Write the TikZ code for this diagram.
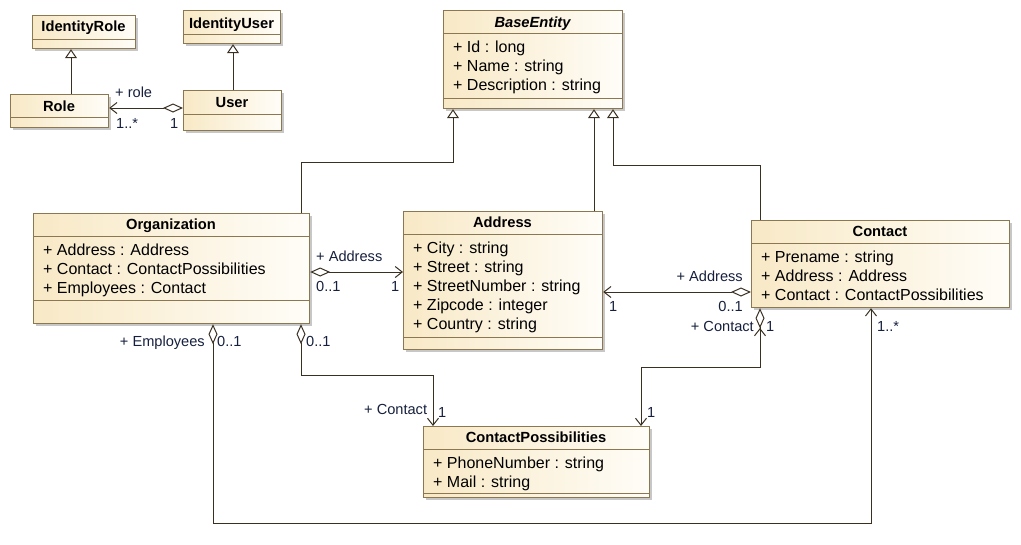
\documentclass[tikz,border=0pt]{standalone}
\usepackage{fontspec}
\setmainfont{Liberation Sans}
\usetikzlibrary{arrows.meta,shadows}
\definecolor{bordc}{RGB}{140,120,80}
\definecolor{filll}{RGB}{248,233,198}
\definecolor{fillr}{RGB}{255,253,248}
\definecolor{connc}{RGB}{58,48,34}
\definecolor{lblc}{RGB}{22,32,62}
\tikzset{
  cls/.style={draw=bordc, line width=1.2pt, left color=filll, right color=fillr, inner sep=0pt, anchor=north west,
    drop shadow={shadow xshift=2pt, shadow yshift=-2pt, fill=black!22, opacity=1}},
  sepline/.style={draw=bordc, line width=1pt},
  cname/.style={font=\fontsize{14.7}{17}\selectfont\bfseries, inner sep=0pt, anchor=base},
  attr/.style={font=\fontsize{16}{19}\selectfont, inner sep=0pt, anchor=base west},
  lbl/.style={font=\fontsize{14.6}{17}\selectfont, text=lblc, inner sep=0pt, anchor=base west},
  lble/.style={lbl, anchor=base east},
  conn/.style={draw=connc, line width=1pt},
  gen/.style={conn, -{Triangle[open, length=9pt, width=12pt, line width=1pt]}},
  agg/.style={conn, {Diamond[open, length=20pt, width=9pt, line width=1pt]}-{Straight Barb[length=7pt, width=11pt, line width=1pt]}},
  nav/.style={conn, -{Straight Barb[length=7pt, width=11pt, line width=1pt]}}
}
\begin{document}
\begin{tikzpicture}[x=1pt,y=-1pt]
\useasboundingbox (0,0) rectangle (1021,544);

% ---------- class boxes ----------
\node[cls, minimum width=103pt, minimum height=33pt] (irole) at (32,15) {};
\draw[sepline] (irole.west |- 0,39) -- (irole.east |- 0,39);
\node[cname] (iroleN) at (83.5,31) {IdentityRole};

\node[cls, minimum width=97pt, minimum height=33pt] (iuser) at (183,10) {};
\draw[sepline] (iuser.west |- 0,34) -- (iuser.east |- 0,34);
\node[cname] (iuserN) at (231.5,28) {IdentityUser};

\node[cls, minimum width=98pt, minimum height=33pt] (role) at (10,94) {};
\draw[sepline] (role.west |- 0,117) -- (role.east |- 0,117);
\node[cname] (roleN) at (59,111) {Role};

\node[cls, minimum width=98pt, minimum height=40pt] (user) at (183,90) {};
\draw[sepline] (user.west |- 0,114) -- (user.east |- 0,114);
\node[cname] (userN) at (232,107) {User};

\node[cls, minimum width=179pt, minimum height=98pt] (base) at (443,10) {};
\draw[sepline] (base.west |- 0,33) -- (base.east |- 0,33);
\draw[sepline] (base.west |- 0,98) -- (base.east |- 0,98);
\node[cname, font=\fontsize{14.7}{17}\selectfont\bfseries\itshape] (baseN) at (532.5,27) {BaseEntity};
\node[attr] (baseA1) at (453,52) {+ Id : long};
\node[attr] (baseA2) at (453,71) {+ Name : string};
\node[attr] (baseA3) at (453,90) {+ Description : string};

\node[cls, minimum width=276pt, minimum height=110pt] (org) at (33,213) {};
\draw[sepline] (org.west |- 0,236) -- (org.east |- 0,236);
\node[cname] (orgN) at (171,229) {Organization};
\node[attr] (orgA1) at (43,255) {+ Address : Address};
\node[attr] (orgA2) at (43,274) {+ Contact : ContactPossibilities};
\node[attr] (orgA3) at (43,293) {+ Employees : Contact};
\draw[sepline] (org.west |- 0,300) -- (org.east |- 0,300);

\node[cls, minimum width=199pt, minimum height=138pt] (addr) at (403,211) {};
\draw[sepline] (addr.west |- 0,234) -- (addr.east |- 0,234);
\node[cname] (addrN) at (502.5,227) {Address};
\node[attr] (addrA1) at (413,253) {+ City : string};
\node[attr] (addrA2) at (413,272) {+ Street : string};
\node[attr] (addrA3) at (413,291) {+ StreetNumber : string};
\node[attr] (addrA4) at (413,310) {+ Zipcode : integer};
\node[attr] (addrA5) at (413,329) {+ Country : string};
\draw[sepline] (addr.west |- 0,337) -- (addr.east |- 0,337);

\node[cls, minimum width=258pt, minimum height=87pt] (cont) at (751,220) {};
\draw[sepline] (cont.west |- 0,243) -- (cont.east |- 0,243);
\node[cname] (contN) at (880,236) {Contact};
\node[attr] (contA1) at (761,262) {+ Prename : string};
\node[attr] (contA2) at (761,281) {+ Address : Address};
\node[attr] (contA3) at (761,300) {+ Contact : ContactPossibilities};

\node[cls, minimum width=226pt, minimum height=71pt] (cp) at (423,426) {};
\draw[sepline] (cp.west |- 0,449) -- (cp.east |- 0,449);
\node[cname] (cpN) at (536,442) {ContactPossibilities};
\node[attr] (cpA1) at (433,468) {+ PhoneNumber : string};
\node[attr] (cpA2) at (433,487) {+ Mail : string};
\draw[sepline] (cp.west |- 0,493) -- (cp.east |- 0,493);

% ---------- generalizations ----------
\draw[gen] (71,0 |- role.north) -- (71,0 |- irole.south);
\draw[gen] (233,0 |- user.north) -- (233,0 |- iuser.south);
\draw[gen] (301,0 |- org.north) -- (301,162) -- (453,162) -- (453,0 |- base.south);
\draw[gen] (594,0 |- addr.north) -- (594,0 |- base.south);
\draw[gen] (760,0 |- cont.north) -- (760,165) -- (613,165) -- (613,0 |- base.south);

% ---------- associations ----------
\draw[agg] (user.west |- 0,108) -- (role.east |- 0,108);
\node[lbl] (l1) at (115,97) {+ role};
\node[lbl] (l2) at (116,128) {1..*};
\node[lbl] (l3) at (170,128) {1};

\draw[agg] (org.east |- 0,272) -- (addr.west |- 0,272);
\node[lbl] (l4) at (316,261) {+ Address};
\node[lbl] (l5) at (316,291) {0..1};
\node[lbl] (l6) at (391,291) {1};

\draw[agg] (cont.west |- 0,292) -- (addr.east |- 0,292);
\node[lble] (l7) at (743,281) {+ Address};
\node[lbl] (l8) at (609,311) {1};
\node[lble] (l9) at (743,311) {0..1};

\draw[agg] (301,0 |- org.south) -- (301,375) -- (433,375) -- (433,0 |- cp.north);
\node[lbl] (l10) at (306,346) {0..1};
\node[lbl] (l11) at (364,414) {+ Contact};
\node[lbl] (l12) at (438,417) {1};

\draw[agg] (213,0 |- org.south) -- (213,523) -- (871,523) -- (871,0 |- cont.south);
\node[lble] (l13) at (205,346) {+ Employees};
\node[lbl] (l14) at (217,346) {0..1};
\node[lbl] (l15) at (877,331) {1..*};

\draw[agg] (760,0 |- cont.south) -- (760,367) -- (641,367) -- (641,0 |- cp.north);
\coordinate (dtip) at (760,328);
\draw[nav] (760,345) -- (dtip);
\node[lble] (l16) at (754,331) {+ Contact};
\node[lbl] (l17) at (766,331) {1};
\node[lbl] (l18) at (647,417) {1};
\end{tikzpicture}
\end{document}
